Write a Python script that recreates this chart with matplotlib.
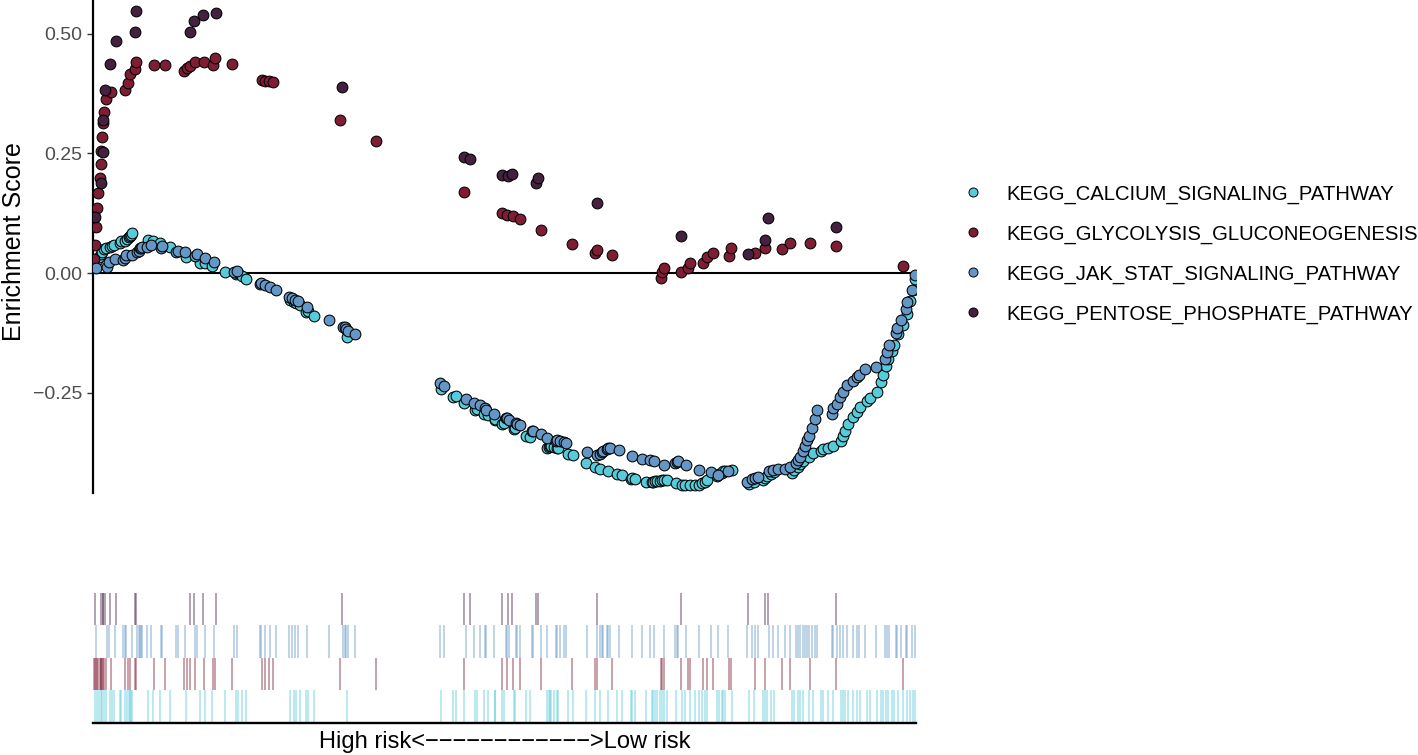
import matplotlib
matplotlib.use("Agg")
import matplotlib.pyplot as plt
from matplotlib.lines import Line2D

plt.rcParams["font.family"] = ["Liberation Sans", "DejaVu Sans"]

# -----------------------------
# DATA (ranked gene list, hit positions and running enrichment score)
# -----------------------------
N_GENES = 16460

PATHWAYS = [
    "KEGG_CALCIUM_SIGNALING_PATHWAY",
    "KEGG_GLYCOLYSIS_GLUCONEOGENESIS",
    "KEGG_JAK_STAT_SIGNALING_PATHWAY",
    "KEGG_PENTOSE_PHOSPHATE_PATHWAY",
]
COLORS = ["#56CBD9", "#7F1D35", "#6497C6", "#44213F"]

calcium_rank = [
    34, 86, 114, 166, 186, 214, 266, 334, 380, 420, 546, 566, 646, 686, 714, 746, 766, 786,
    1100, 1200, 1346, 1534, 1866, 2134, 2234, 2386, 2646, 2854, 2900, 2986, 3066,
    3934, 4014, 4054, 4134, 4266, 4300, 4414, 5086,
    6954, 7200, 7266, 7414, 7634, 7680, 7820, 7900, 8034, 8046, 8180, 8214, 8414, 8434,
    8666, 8746, 9086, 9114, 9134, 9154, 9220, 9286, 9300, 9506, 9600, 9866, 10034, 10134,
    10300, 10486, 10580, 10766, 10786, 10834, 11066, 11174, 11206, 11240, 11274, 11340,
    11374, 11420, 11474, 11660, 11774, 11840, 11940, 12040, 12126, 12174, 12240, 12274,
    12486, 12526, 12574, 12606, 12640, 12774, 13126, 13220, 13394, 13440, 13474, 13554,
    13620, 13974, 14020, 14106, 14140, 14194, 14326, 14406, 14554, 14606, 14706, 14794,
    14954, 14994, 15040, 15106, 15194, 15274, 15340, 15474, 15540, 15686, 15754, 15806,
    15860, 15906, 15974, 16020, 16106, 16206, 16274, 16340, 16394, 16440,
]
calcium_es = [
    0.012, 0.027, 0.033, 0.040, 0.045, 0.050, 0.052, 0.054, 0.056, 0.058, 0.062, 0.066,
    0.068, 0.072, 0.075, 0.078, 0.080, 0.083,
    0.069, 0.067, 0.063, 0.054, 0.034, 0.022, 0.020, 0.015, 0.003, -0.001, 0.000, -0.006, -0.013,
    -0.056, -0.060, -0.062, -0.066, -0.081, -0.080, -0.090, -0.133,
    -0.243, -0.260, -0.258, -0.272, -0.287, -0.285, -0.295, -0.297, -0.307, -0.305, -0.316,
    -0.314, -0.327, -0.325, -0.341, -0.343, -0.366, -0.364, -0.362, -0.361, -0.364, -0.366,
    -0.365, -0.378, -0.381, -0.397, -0.405, -0.409, -0.414, -0.421, -0.423, -0.430, -0.429,
    -0.430, -0.437, -0.437, -0.436, -0.435, -0.434, -0.434, -0.433, -0.432, -0.432, -0.440,
    -0.443, -0.443, -0.444, -0.444, -0.443, -0.440, -0.436, -0.432, -0.425, -0.421, -0.418,
    -0.415, -0.413, -0.412, -0.442, -0.437, -0.433, -0.428, -0.424, -0.420, -0.416, -0.418,
    -0.412, -0.405, -0.399, -0.394, -0.385, -0.377, -0.372, -0.367, -0.365, -0.362, -0.352,
    -0.340, -0.330, -0.316, -0.302, -0.290, -0.281, -0.268, -0.262, -0.248, -0.228, -0.213,
    -0.195, -0.180, -0.163, -0.150, -0.128, -0.108, -0.085, -0.058, -0.035, -0.012,
]

glycolysis_rank = [
    20, 40, 60, 80, 100, 130, 154, 166, 178, 194, 220, 250, 366, 630, 690, 730, 830, 860,
    1220, 1440, 1820, 1880, 1940, 2040, 2210, 2406, 2440, 2780, 3380, 3440, 3510, 3600,
    4930, 5660, 7410, 8180, 8280, 8390, 8530, 8960, 9570, 10034, 10070, 10380,
    11350, 11380, 11420, 11760, 11894, 11930, 12190, 12280, 12390, 12720, 12760,
    13240, 13440, 13780, 13940, 14340, 14860, 16200,
]
glycolysis_es = [
    0.030, 0.059, 0.097, 0.135, 0.167, 0.198, 0.227, 0.256, 0.285, 0.313, 0.337, 0.363,
    0.379, 0.383, 0.398, 0.416, 0.427, 0.442,
    0.435, 0.435, 0.423, 0.428, 0.434, 0.441, 0.441, 0.435, 0.449, 0.437, 0.404, 0.402,
    0.401, 0.400, 0.320, 0.276, 0.169, 0.125, 0.121, 0.119, 0.113, 0.091, 0.061, 0.041,
    0.048, 0.037, -0.011, 0.003, 0.011, 0.003, 0.010, 0.022, 0.022, 0.034, 0.041, 0.036,
    0.053, 0.042, 0.052, 0.050, 0.063, 0.062, 0.057, 0.015,
]

jak_rank = [
    66, 286, 314, 434, 600, 646, 666, 780, 886, 914, 934, 966, 986, 1080, 1166, 1354, 1380,
    1666, 1700, 1834, 2034, 2080, 2234, 2414, 2814, 2880, 3346, 3366, 3434, 3546, 3666,
    3914, 3980, 4046, 4100, 4286, 4720, 5000, 5046, 5066, 5100, 5234,
    6934, 7020, 7466, 7620, 7734, 7834, 7866, 8014, 8254, 8274, 8314, 8454, 8486, 8546,
    8780, 8800, 8966, 9080, 9254, 9280, 9334, 9414, 9466, 9880, 10080, 10146, 10186, 10206,
    10286, 10306, 10346, 10514, 10786, 10980, 11140, 11220, 11420, 11640, 11674, 11706,
    11854, 12120, 12360, 12506, 12694, 13074, 13174, 13240, 13306, 13526, 13606, 13694,
    13840, 13940, 14060, 14106, 14140, 14194, 14240, 14286, 14326, 14374, 14440, 14486,
    14774, 14806, 14874, 14940, 15006, 15086, 15194, 15286, 15326, 15446, 15654, 15840,
    15886, 15926, 16060, 16086, 16154, 16254, 16286, 16374, 16440,
]
jak_es = [
    0.010, 0.013, 0.024, 0.029, 0.027, 0.032, 0.038, 0.038, 0.043, 0.047, 0.052, 0.053,
    0.055, 0.055, 0.058, 0.053, 0.056, 0.043, 0.046, 0.045, 0.036, 0.039, 0.031, 0.024,
    0.003, 0.005, -0.023, -0.021, -0.025, -0.029, -0.036, -0.051, -0.053, -0.056, -0.058,
    -0.070, -0.098, -0.112, -0.112, -0.116, -0.121, -0.128,
    -0.231, -0.236, -0.264, -0.271, -0.276, -0.283, -0.286, -0.294, -0.304, -0.303, -0.307,
    -0.314, -0.316, -0.318, -0.331, -0.330, -0.337, -0.344, -0.351, -0.350, -0.352, -0.354,
    -0.355, -0.374, -0.381, -0.378, -0.375, -0.372, -0.369, -0.366, -0.365, -0.370, -0.383,
    -0.389, -0.391, -0.393, -0.402, -0.398, -0.395, -0.393, -0.402, -0.411, -0.416, -0.423,
    -0.414, -0.436, -0.430, -0.428, -0.426, -0.414, -0.412, -0.410, -0.409, -0.405, -0.398,
    -0.390, -0.384, -0.372, -0.362, -0.350, -0.340, -0.325, -0.305, -0.287, -0.294, -0.282,
    -0.273, -0.260, -0.248, -0.235, -0.225, -0.217, -0.213, -0.201, -0.197, -0.180, -0.165,
    -0.150, -0.125, -0.115, -0.098, -0.075, -0.060, -0.035, -0.005,
]

pentose_rank = [
    40, 154, 194, 206, 240, 346, 460, 836, 864, 1940, 2020, 2206, 2454, 4986,
    7410, 7534, 8170, 8290, 8374, 8850, 8900, 10072, 11760, 13090, 13440, 13496, 14850,
]
pentose_es = [
    0.118, 0.188, 0.254, 0.320, 0.383, 0.438, 0.485, 0.505, 0.548, 0.505, 0.527, 0.539,
    0.543, 0.390, 0.243, 0.238, 0.205, 0.203, 0.208, 0.189, 0.198, 0.146, 0.078, 0.040,
    0.069, 0.115, 0.097,
]

RANKS = [calcium_rank, glycolysis_rank, jak_rank, pentose_rank]
SCORES = [calcium_es, glycolysis_es, jak_es, pentose_es]

# -----------------------------
# FIGURE
# -----------------------------
W, H = 1418, 755
fig = plt.figure(figsize=(W / 100, H / 100), dpi=100)

# running enrichment score panel
ax = fig.add_axes([93 / W, 1 - 493 / H, 823 / W, 493 / H])
ax.axhline(0, color="black", lw=1.5, zorder=1)
for ranks, scores, col in zip(RANKS, SCORES, COLORS):
    ax.scatter(ranks, scores, s=60, c=col, edgecolors="black", linewidths=0.75, zorder=3)

ax.set_xlim(0, N_GENES)
ax.set_ylim(-0.460, 0.571)
ax.set_yticks([-0.25, 0.0, 0.25, 0.50])
ax.set_yticklabels(["\u22120.25", "0.00", "0.25", "0.50"])
ax.set_xticks([])
for s in ["top", "right", "bottom"]:
    ax.spines[s].set_visible(False)
ax.spines["left"].set_linewidth(1.6)
ax.tick_params(axis="y", length=4, width=1, color="#333333", labelcolor="#4D4D4D",
               labelsize=14, pad=4)
fig.text(14 / W, 1 - 242 / H, "Enrichment Score", rotation=90, ha="center", va="center",
         fontsize=18)

# hit rug panel
ax2 = fig.add_axes([93 / W, 1 - 722.5 / H, 823 / W, 129.5 / H])
for i, (ranks, col) in enumerate(zip(RANKS, COLORS)):
    ax2.vlines(ranks, i, i + 1, colors=col, alpha=0.45, lw=1.3)
ax2.set_xlim(0, N_GENES)
ax2.set_ylim(0, 4)
ax2.set_xticks([])
ax2.set_yticks([])
for s in ["top", "right", "left"]:
    ax2.spines[s].set_visible(False)
ax2.spines["bottom"].set_linewidth(1.7)
ax2.set_xlabel("High risk<" + "\u2212" * 12 + ">Low risk", fontsize=17, labelpad=6)

# legend
handles = [Line2D([], [], ls="", marker="o", markersize=6.5, markerfacecolor=c,
                  markeredgecolor="black", markeredgewidth=0.7) for c in COLORS]
fig.legend(handles, PATHWAYS, loc="center left", bbox_to_anchor=(962.5 / W, 1 - 254 / H),
           frameon=False, fontsize=14.6, handlelength=1.0, handletextpad=1.15,
           labelspacing=1.02, borderpad=0, borderaxespad=0)

fig.savefig("out.png", dpi=100)
